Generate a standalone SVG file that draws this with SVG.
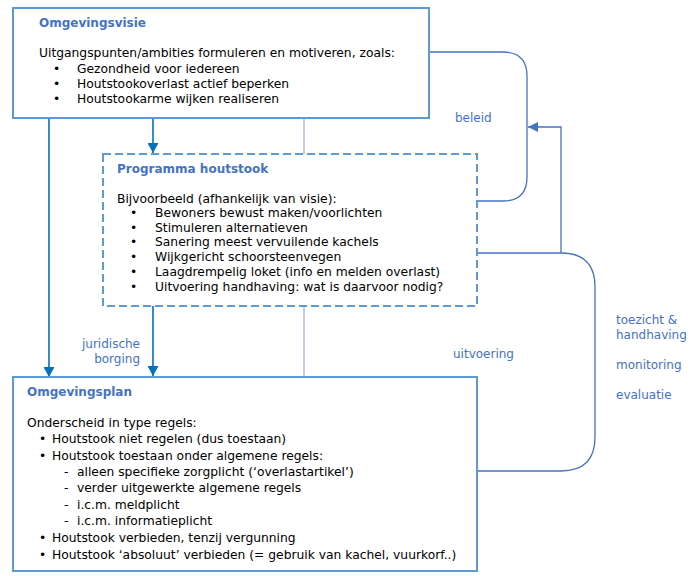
<svg xmlns="http://www.w3.org/2000/svg" width="700" height="576" viewBox="0 0 700 576">
<style>
  text { font-family: "DejaVu Sans", Verdana, sans-serif; font-size: 12.3px; fill: #000; }
  .title { font-weight: bold; font-size: 12px; fill: #4472C4; }
  .lbl { fill: #4472C4; font-size: 12px; }
  .box { fill: #fff; stroke: #5B9BD5; stroke-width: 2; }
  .dash { stroke-dasharray: 8 4; }
  .blue { stroke: #0070C0; stroke-width: 1.6; fill: none; }
  .thin { stroke: #9DB3E6; stroke-width: 1.3; fill: none; }
  .brk { stroke: #4472C4; stroke-width: 1.3; fill: none; }
</style>
<defs>
  <marker id="ad" markerWidth="10" markerHeight="11" refX="10" refY="5.5" orient="auto" markerUnits="userSpaceOnUse">
    <path d="M0,0 L10,5.5 L0,11 Z" fill="#0070C0"/>
  </marker>
  <marker id="al" markerWidth="10" markerHeight="10" refX="10" refY="5" orient="auto" markerUnits="userSpaceOnUse">
    <path d="M0,0 L10,5 L0,10 Z" fill="#4472C4"/>
  </marker>
</defs>

<g id="connectors">
  <line class="blue" x1="49" y1="118" x2="49" y2="377" marker-end="url(#ad)"/>
  <line class="blue" x1="153" y1="118" x2="153" y2="153" marker-end="url(#ad)"/>
  <line class="blue" x1="153" y1="306" x2="153" y2="376" marker-end="url(#ad)"/>
  <line class="thin" x1="304" y1="118" x2="304" y2="154"/>
  <line class="thin" x1="304" y1="306" x2="304" y2="377"/>
  <path class="brk" d="M429,52 H503 Q527,52 527,76 V177 Q527,201 503,201 H477"/>
  <path class="brk" d="M477,253 H561 Q595,253 595,287 V437 Q595,471 561,471 H477"/>
  <path class="brk" d="M561,253 V127 H528" marker-end="url(#al)"/>
</g>

<g id="omgevingsvisie">
  <rect class="box" x="13" y="8" width="416" height="110"/>
  <text class="title" x="39" y="27">Omgevingsvisie</text>
  <text x="39" y="57">Uitgangspunten/ambities formuleren en motiveren, zoals:</text>
  <text x="53" y="73">•</text><text x="77" y="73">Gezondheid voor iedereen</text>
  <text x="53" y="88">•</text><text x="77" y="88">Houtstookoverlast actief beperken</text>
  <text x="53" y="103">•</text><text x="77" y="103">Houtstookarme wijken realiseren</text>
</g>

<g id="programma">
  <rect class="box dash" x="103" y="154" width="374" height="152"/>
  <text class="title" x="117" y="173">Programma houtstook</text>
  <text x="117" y="203">Bijvoorbeeld (afhankelijk van visie):</text>
  <text x="130" y="217">•</text><text x="155" y="217">Bewoners bewust maken/voorlichten</text>
  <text x="130" y="232">•</text><text x="155" y="232">Stimuleren alternatieven</text>
  <text x="130" y="246">•</text><text x="155" y="246">Sanering meest vervuilende kachels</text>
  <text x="130" y="261">•</text><text x="155" y="261">Wijkgericht schoorsteenvegen</text>
  <text x="130" y="276">•</text><text x="155" y="276">Laagdrempelig loket (info en melden overlast)</text>
  <text x="130" y="291">•</text><text x="155" y="291">Uitvoering handhaving: wat is daarvoor nodig?</text>
</g>

<g id="omgevingsplan">
  <rect class="box" x="13" y="377" width="464" height="194"/>
  <text class="title" x="27" y="396">Omgevingsplan</text>
  <text x="27" y="427">Onderscheid in type regels:</text>
  <text x="39" y="443">•</text><text x="52" y="443">Houtstook niet regelen (dus toestaan)</text>
  <text x="39" y="460">•</text><text x="52" y="460">Houtstook toestaan onder algemene regels:</text>
  <text x="64" y="476">-</text><text x="77" y="476">alleen specifieke zorgplicht (‘overlastartikel’)</text>
  <text x="64" y="492">-</text><text x="77" y="492">verder uitgewerkte algemene regels</text>
  <text x="64" y="509">-</text><text x="77" y="509">i.c.m. meldplicht</text>
  <text x="64" y="525">-</text><text x="77" y="525">i.c.m. informatieplicht</text>
  <text x="39" y="542">•</text><text x="52" y="542">Houtstook verbieden, tenzij vergunning</text>
  <text x="39" y="559">•</text><text x="52" y="559">Houtstook ‘absoluut’ verbieden (= gebruik van kachel, vuurkorf..)</text>
</g>

<g id="labels">
  <text class="lbl" x="455" y="122">beleid</text>
  <text class="lbl" x="140" y="348" text-anchor="end">juridische</text>
  <text class="lbl" x="140" y="363" text-anchor="end">borging</text>
  <text class="lbl" x="453" y="358">uitvoering</text>
  <text class="lbl" x="616" y="324">toezicht &amp;</text>
  <text class="lbl" x="616" y="339">handhaving</text>
  <text class="lbl" x="616" y="369">monitoring</text>
  <text class="lbl" x="616" y="399">evaluatie</text>
</g>
</svg>
